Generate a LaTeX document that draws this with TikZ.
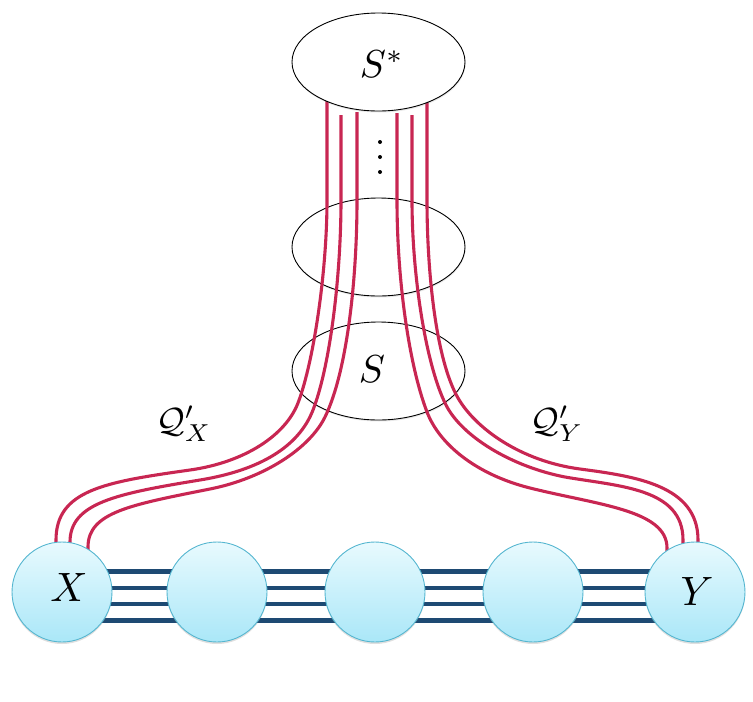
\documentclass[tikz,border=0pt]{standalone}
\usetikzlibrary{shapes.geometric,shadows}
\definecolor{pathred}{RGB}{200,38,82}
\definecolor{edgeblue}{RGB}{30,74,115}
\definecolor{circtop}{RGB}{232,250,254}
\definecolor{circbot}{RGB}{170,231,248}
\definecolor{circedge}{RGB}{85,182,208}
\begin{document}
\begin{tikzpicture}[x=1pt,y=-1pt,
  setell/.style={ellipse, draw=black, line width=0.9pt, fill=white,
    minimum width=173pt, minimum height=98pt, inner sep=0pt,
    drop shadow={opacity=0.18, shadow xshift=0.5pt, shadow yshift=-1.5pt}},
  vtx/.style={circle, draw=circedge, line width=0.9pt, top color=circtop,
    bottom color=circbot, minimum size=100pt, inner sep=0pt,
    drop shadow={opacity=0.25, shadow xshift=0pt, shadow yshift=-2pt}},
  redpath/.style={draw=pathred, line width=3.1pt},
  blueedge/.style={draw=edgeblue, line width=4.5pt},
  biglabel/.style={scale=3.9, inner sep=0pt},
  vlabel/.style={scale=4.1, inner sep=0pt},
  qlabel/.style={scale=3.5, inner sep=0pt},
  dot/.style={circle, fill=black, minimum size=4pt, inner sep=0pt}]
\useasboundingbox (0,0) rectangle (753,702);

% set ellipses below the paths
\node[setell] (mid) at (378.5,247) {};
\node[setell] (sset) at (378.5,371) {};
\node[biglabel] (slab) at (372,369) {$S$};

% red paths, left bundle (Q'_X)
\draw[redpath] (327,100) -- (327,200)
  .. controls (327,270) and (314,361) .. (298,403)
  .. controls (285.4,435.5) and (244.5,462.3) .. (190,470)
  .. controls (105,482) and (56,490) .. (56,540) -- (56,556);
\draw[redpath] (341,115) -- (341,200)
  .. controls (341,275) and (330.3,365.4) .. (313,410)
  .. controls (298.6,447.2) and (259.2,470.3) .. (200,480)
  .. controls (116,493.8) and (70,503) .. (70,542) -- (70,556);
\draw[redpath] (357,112) -- (357,200)
  .. controls (357,280) and (347,372) .. (325,417)
  .. controls (309.6,448.5) and (264,478.2) .. (210,489)
  .. controls (131.6,504.7) and (88,512) .. (88,547) -- (88,558);

% red paths, right bundle (Q'_Y)
\draw[redpath] (397,113) -- (397,200)
  .. controls (397,280) and (409,365) .. (427,412)
  .. controls (439.5,444.7) and (476.6,474.6) .. (530,488)
  .. controls (598,505) and (667,510) .. (667,548) -- (667,560);
\draw[redpath] (412,115) -- (412,200)
  .. controls (412,275) and (425.75,365) .. (446,405)
  .. controls (461.75,436.2) and (511,466.5) .. (565,477)
  .. controls (619,486.4) and (683,488) .. (683,540) -- (683,556);
\draw[redpath] (427,100) -- (427,200)
  .. controls (427,270) and (435.5,359) .. (458,398)
  .. controls (475.5,428.3) and (520.5,461.1) .. (580,469)
  .. controls (634.5,476.3) and (698,485) .. (698,540) -- (698,556);

% top set
\node[setell] (sstar) at (378.5,62) {};
\node[biglabel] (sstarlab) at (382,64) {$S^{*}$};

% vertical dots
\node[dot] (d1) at (380,142) {};
\node[dot] (d2) at (380,157) {};
\node[dot] (d3) at (380,172) {};

% vertices and the four parallel edges
\coordinate (xc) at (62,592);
\coordinate (yc) at (695,592);
\foreach \s in {20.5,4.2,-12.1,-28.4}{
  \draw[blueedge] ([yshift=\s pt]xc) -- ([yshift=\s pt]yc);
}
\node[vtx] (x) at (xc) {};
\node[vtx] (v2) at (217,592) {};
\node[vtx] (v3) at (375,592) {};
\node[vtx] (v4) at (533,592) {};
\node[vtx] (y) at (yc) {};
\node[vlabel] (xlab) at (69,587) {$X$};
\node[vlabel] (ylab) at (697,591) {$Y$};

% labels of path families
\node[qlabel] (qx) at (184,424) {$\mathcal{Q}'_X$};
\node[qlabel] (qy) at (557,424) {$\mathcal{Q}'_Y$};
\end{tikzpicture}
\end{document}
